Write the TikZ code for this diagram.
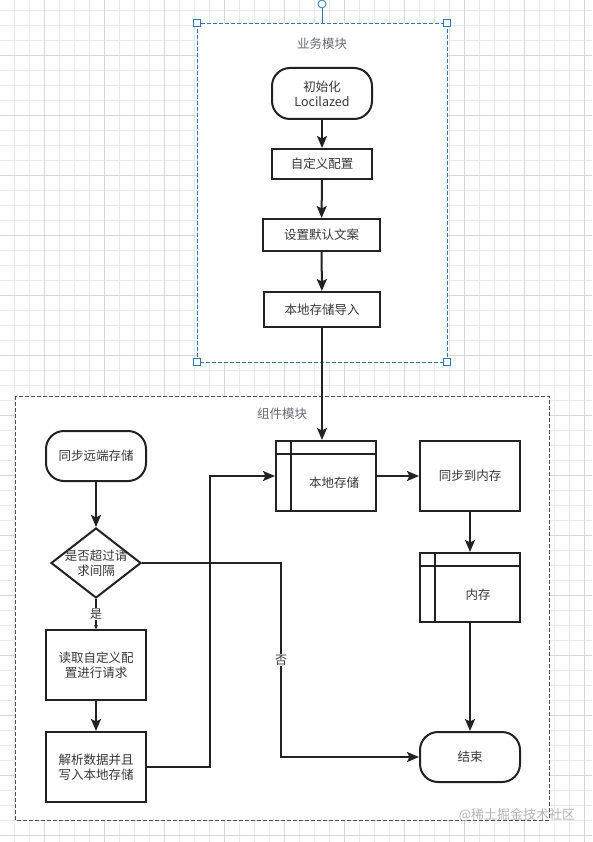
\documentclass[tikz,border=0pt]{standalone}
\usepackage{fontspec}
\setmainfont{Noto Sans CJK SC}
\usetikzlibrary{shapes.geometric,arrows.meta,calc}
\definecolor{gridminor}{HTML}{EAEAEA}
\definecolor{gridmajor}{HTML}{D8D8D8}
\definecolor{selblue}{HTML}{2F74B5}
\definecolor{ink}{HTML}{222222}
\definecolor{titlegray}{HTML}{666B73}
\definecolor{wmgray}{HTML}{B5B5B5}
\tikzset{
  base/.style={draw=ink, line width=2pt, fill=white, inner sep=2pt, font=\fontsize{12.5}{15}\selectfont, text=ink!90, align=center},
  procbox/.style={base, rectangle},
  termbox/.style={base, rectangle, rounded corners=18pt},
  tablebox/.style={base, rectangle},
  decbox/.style={base, diamond, inner sep=0pt},
  arr/.style={draw=ink, line width=2pt, -{Stealth[length=12pt,width=10pt,inset=2.5pt]}},
  smallarr/.style={draw=ink, line width=2pt, -{Stealth[length=4pt,width=4pt,inset=1pt]}},
  edgelabel/.style={fill=white, inner sep=1pt, font=\fontsize{12}{14}\selectfont, text=ink!90},
  title/.style={font=\fontsize{12.5}{15}\selectfont, text=titlegray},
  handle/.style={draw=selblue, fill=white, line width=0.8pt},
}
\begin{document}
\begin{tikzpicture}[x=1pt,y=-1pt]
\useasboundingbox (0,0) rectangle (592,842);
\fill[white] (0,0) rectangle (592,842);
% grid
\foreach \x in {14,29,...,592} \draw[gridminor, line width=0.8pt] (\x,0) -- (\x,842);
\foreach \y in {10,25,...,842} \draw[gridminor, line width=0.8pt] (0,\y) -- (592,\y);
\foreach \x in {44,104,...,592} \draw[gridmajor, line width=0.9pt] (\x,0) -- (\x,842);
\foreach \y in {55,115,...,842} \draw[gridmajor, line width=0.9pt] (0,\y) -- (592,\y);
% containers
\draw[fill=white, draw=ink!80, line width=0.9pt, dash pattern=on 4pt off 2pt] (15,396) rectangle (549,820);
\draw[fill=white, draw=selblue, line width=0.9pt, dash pattern=on 4pt off 2pt] (197,23) rectangle (447,362);
\node[title] (t1) at (322,44) {业务模块};
\node[title] (t2) at (282,414) {组件模块};
% selection handles
\draw[handle] (322,8) -- (322,23);
\draw[handle] (322,4) circle (4pt);
\foreach \p in {(197,23),(447,23),(197,362),(447,362)}
  \draw[handle] \p ++(-3.5,-3.5) rectangle ++(7,7);
% top module nodes
\node[termbox, minimum width=100pt, minimum height=51pt] (init) at (322,93.5) {初始化\\Locilazed};
\node[procbox, minimum width=100pt, minimum height=30pt] (zdy) at (322,164) {自定义配置};
\node[procbox, minimum width=117pt, minimum height=32pt] (sz) at (321.5,235) {设置默认文案};
\node[procbox, minimum width=116pt, minimum height=35pt] (bd) at (322,309.5) {本地存储导入};
% bottom module nodes
\node[tablebox, minimum width=100pt, minimum height=70pt, label={[font=\fontsize{12.5}{15}\selectfont, text=ink!90, xshift=8pt, yshift=-7pt]center:本地存储}] (ls) at (326,476) {};
\draw[ink, line width=2pt] ($(ls.north west)+(0,14)$) -- ($(ls.north east)+(0,14)$);
\draw[ink, line width=2pt] ($(ls.north west)+(16,0)$) -- ($(ls.south west)+(16,0)$);
\node[procbox, minimum width=100pt, minimum height=70pt] (tb) at (470,476) {同步到内存};
\node[tablebox, minimum width=100pt, minimum height=69pt, label={[font=\fontsize{12.5}{15}\selectfont, text=ink!90, xshift=8pt, yshift=-7pt]center:内存}] (nc) at (470,587.5) {};
\draw[ink, line width=2pt] ($(nc.north west)+(0,14)$) -- ($(nc.north east)+(0,14)$);
\draw[ink, line width=2pt] ($(nc.north west)+(16,0)$) -- ($(nc.south west)+(16,0)$);
\node[termbox, minimum width=100pt, minimum height=50pt] (end) at (470,757) {结束};
\node[termbox, minimum width=100pt, minimum height=50pt] (yd) at (96,456) {同步远端存储};
\node[decbox, minimum width=90pt, minimum height=70pt, label={[align=center, font=\fontsize{12.5}{15}\selectfont, text=ink!90]center:是否超过请\\求间隔}] (dm) at (96,563) {};
\node[procbox, minimum width=100pt, minimum height=70pt] (dq) at (96,665) {读取自定义配\\置进行请求};
\node[procbox, minimum width=100pt, minimum height=70pt] (jx) at (96,767) {解析数据并且\\写入本地存储};
% connectors top
\draw[arr] (init) -- (zdy);
\draw[arr] (zdy) -- (sz);
\draw[arr] (sz) -- (bd);
\draw[arr] (bd) -- (bd.south |- ls.north);
% connectors bottom
\draw[arr] (yd) -- (dm);
\draw[smallarr] (dm) -- node[edgelabel] (yes) {是} (dq);
\draw[arr] (dq) -- (jx);
\draw[arr] (jx.east) -- ++(63,0) |- (ls.west);
\draw[arr] (dm.east) -- ++(139,0) |- node[pos=0.25, edgelabel] (no) {否} (end.west);
\draw[arr] (ls.east) -- (tb.west);
\draw[arr] (tb) -- (nc);
\draw[arr] (nc) -- (end);
% watermark
\node[font=\fontsize{13}{15}\selectfont, text=wmgray] (wm) at (517,815) {@稀土掘金技术社区};
\end{tikzpicture}
\end{document}
